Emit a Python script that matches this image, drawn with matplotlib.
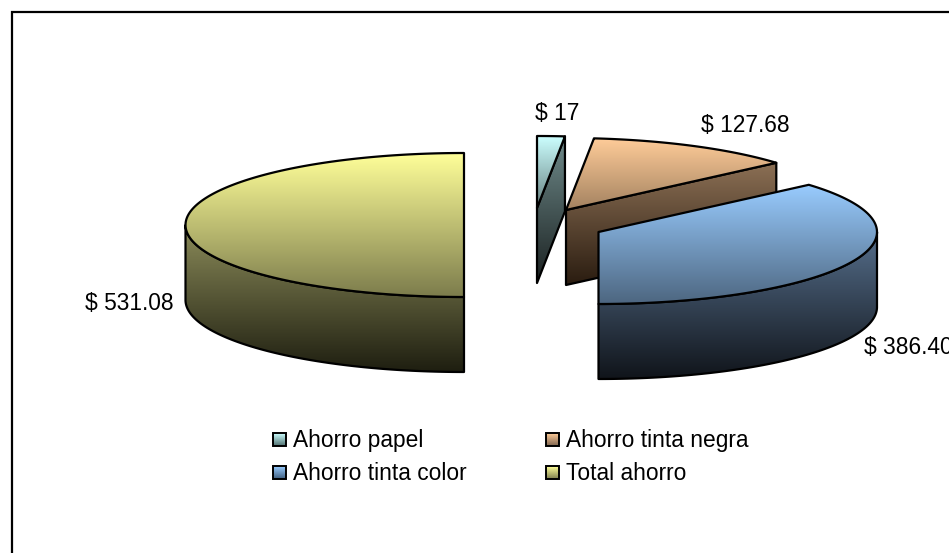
import numpy as np
import matplotlib
matplotlib.use('Agg')
import matplotlib.pyplot as plt
from matplotlib.colors import LinearSegmentedColormap
from matplotlib.patches import PathPatch, Rectangle
from matplotlib.path import Path

categories = ['Ahorro papel', 'Ahorro tinta negra', 'Ahorro tinta color', 'Total ahorro']
values = [17, 127.68, 386.40, 531.08]
value_labels = ['$ 17', '$ 127.68', '$ 386.40', '$ 531.08']

# pixel layout of the exploded slices
apex = [(537, 208), (566, 210), (598.5, 232), (464, 225)]
label_pos = [(557, 113), (745, 125), (908, 348), (129, 304)]
legend_pos = [(273, 433), (546, 433), (273, 466), (546, 466)]
RX = 278.5
RY = 72
DEPTH = 75

top_cols = [('#CCFFFF', '#668080'), ('#FFCC99', '#A38260'), ('#99CCFF', '#4D6680'), ('#FFFF99', '#7C7C4C')]
side_cols = [('#708C8C', '#1A2020'), ('#8C7055', '#2A1C10'), ('#566F8C', '#10141A'), ('#8C8C5A', '#1E1E10')]
legend_cols = [('#CCFFFF', '#507070'), ('#FFCC99', '#806650'), ('#99CCFF', '#406080'), ('#FFFF99', '#808050')]

plt.rcParams['font.family'] = ['Liberation Sans', 'DejaVu Sans']

fig = plt.figure(figsize=(9.49, 5.53), dpi=100)
ax = fig.add_axes([0, 0, 1, 1])
ax.set_xlim(0, 949)
ax.set_ylim(553, 0)
ax.axis('off')


def rim(c, t):
    t = np.radians(t)
    return c[0] + RX * np.sin(t), c[1] - RY * np.cos(t)


def fill_gradient(xy, cols, zorder, lw=1.6):
    # vertical gradient clipped to the polygon, black outline on top
    xy = np.array(xy)
    codes = [Path.MOVETO] + [Path.LINETO] * (len(xy) - 2) + [Path.CLOSEPOLY]
    path = Path(xy, codes)
    x0, x1 = xy[:, 0].min(), xy[:, 0].max()
    y0, y1 = xy[:, 1].min(), xy[:, 1].max()
    cmap = LinearSegmentedColormap.from_list('g', cols)
    im = ax.imshow(np.linspace(0, 1, 256).reshape(-1, 1), cmap=cmap, aspect='auto',
                   extent=(x0, x1, y1, y0), zorder=zorder, interpolation='bilinear')
    patch = PathPatch(path, fc='none', ec='none', transform=ax.transData)
    ax.add_patch(patch)
    im.set_clip_path(patch)
    ax.add_patch(PathPatch(path, fc='none', ec='black', lw=lw, zorder=zorder + 0.1, joinstyle='round'))


total = sum(values)
start = 0
for i, v in enumerate(values):
    end = start + v / total * 360
    c = apex[i]
    z = 2 + i * 3

    # cut face at the end of the slice, only seen when it faces the viewer
    if end < 179:
        rx, ry = rim(c, end)
        fill_gradient([c, (rx, ry), (rx, ry + DEPTH), (c[0], c[1] + DEPTH), c], side_cols[i], z)

    # outer wall, front half of the ellipse only
    a = max(start, 90)
    b = min(end, 270)
    if a < b:
        ts = np.linspace(a, b, 120)
        up = [rim(c, t) for t in ts]
        down = [(x, y + DEPTH) for x, y in up][::-1]
        fill_gradient(up + down + [up[0]], side_cols[i], z + 1)

    # top face
    ts = np.linspace(start, end, 160)
    fill_gradient([c] + [rim(c, t) for t in ts] + [c], top_cols[i], z + 2)

    ax.text(label_pos[i][0], label_pos[i][1], value_labels[i], fontsize=16.4, ha='center',
            va='center', color='black', zorder=30)
    start = end

# legend
for i, name in enumerate(categories):
    x, y = legend_pos[i]
    cmap = LinearSegmentedColormap.from_list('l', legend_cols[i])
    ax.imshow(np.linspace(0, 1, 32).reshape(-1, 1), cmap=cmap, aspect='auto',
              extent=(x, x + 13, y + 13, y), zorder=20)
    ax.add_patch(Rectangle((x, y), 13, 13, fc='none', ec='black', lw=1.4, zorder=21))
    ax.text(x + 20, y + 7, name, fontsize=16.4, ha='left', va='center', color='black', zorder=30)

# chart frame, cut off at the right and bottom of the image
ax.plot([12, 12, 949], [553, 12, 12], color='black', lw=1.6, solid_joinstyle='miter', zorder=40)

ax.set_xlim(0, 949)
ax.set_ylim(553, 0)
fig.savefig('out.png', dpi=100, facecolor='white')
